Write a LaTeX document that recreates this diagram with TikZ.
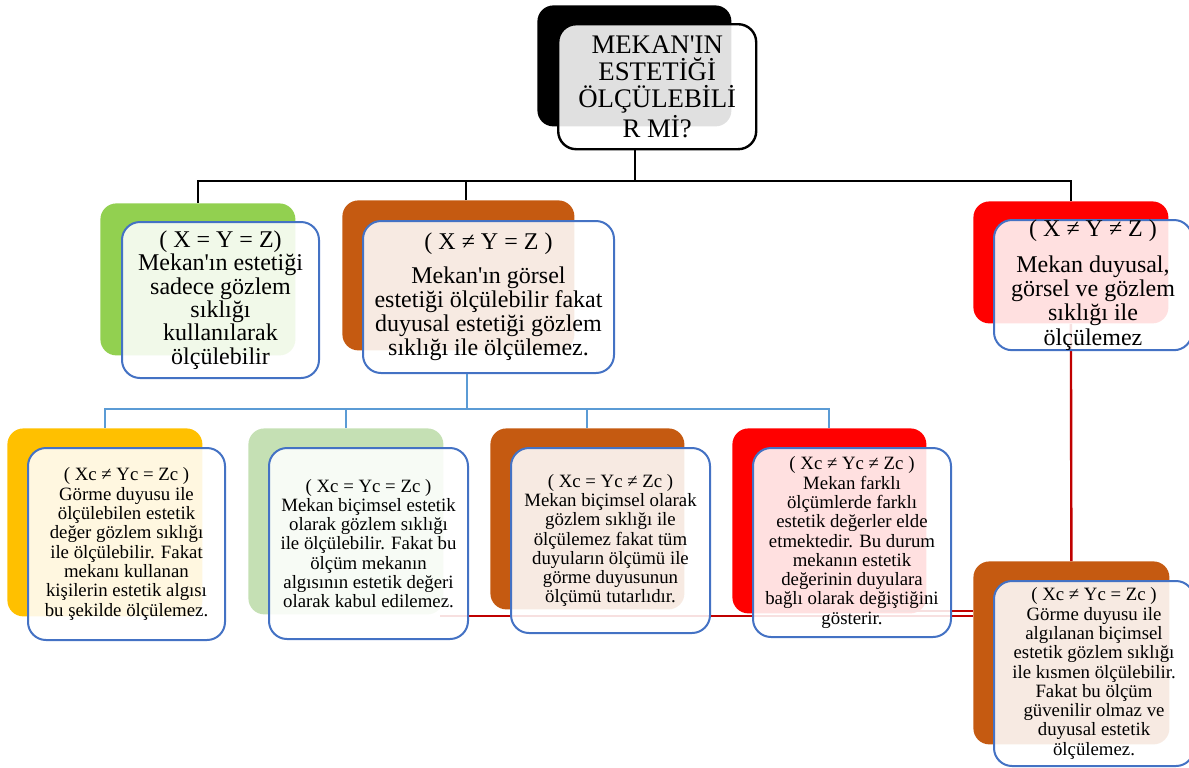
\documentclass[tikz,border=0pt]{standalone}
\usepackage{fontspec}
\setmainfont{Liberation Serif}[Ligatures=TeXOff]
\definecolor{kenar}{HTML}{4472C4}
\definecolor{dal}{HTML}{5B9BD5}
\definecolor{koyukirmizi}{HTML}{C00000}
\definecolor{yesil}{HTML}{92D050}
\definecolor{acikyesil}{HTML}{C5E0B4}
\definecolor{turuncu}{HTML}{C55A11}
\definecolor{sari}{HTML}{FFC000}
\definecolor{kirmizi}{HTML}{FF0000}

\begin{document}
\begin{tikzpicture}[
x=0.5pt,y=-0.5pt,
back/.style={
  rounded corners=8pt,
  anchor=north west,
  inner sep=0pt
},
front/.style={
  draw=kenar,
  line width=1pt,
  fill=white,
  fill opacity=0.88,
  text opacity=1,
  rounded corners=9pt,
  anchor=north west,
  align=center,
  inner sep=0pt
},
buyuk/.style={font=\fontsize{13.4}{13.5}\selectfont},
orta/.style={font=\fontsize{12}{12.1}\selectfont},
kucuk/.style={font=\fontsize{9.4}{9.65}\selectfont},
agac/.style={line width=1pt},
mavidal/.style={draw=dal,line width=1pt},
kirmizidal/.style={draw=koyukirmizi,line width=1.2pt}
]
\useasboundingbox (0,0) rectangle (1189,767);

% arka kutular
\node[back,fill=black,minimum width=97pt,minimum height=60.5pt] at (537,5) (qb) {};
\node[back,fill=yesil,minimum width=97.5pt,minimum height=76pt] at (100,203) (l1b) {};
\node[back,fill=turuncu,minimum width=116pt,minimum height=75pt] at (342,200) (l2b) {};
\node[back,fill=kirmizi,minimum width=97.5pt,minimum height=61pt] at (973,201) (l3b) {};
\node[back,fill=sari,minimum width=97.5pt,minimum height=94pt] at (7,428) (c1b) {};
\node[back,fill=acikyesil,minimum width=97.5pt,minimum height=93pt] at (248,428) (c2b) {};
\node[back,fill=turuncu,minimum width=97pt,minimum height=90.5pt] at (490,428) (c3b) {};
\node[back,fill=kirmizi,minimum width=97pt,minimum height=92.5pt] at (732,428) (c4b) {};
\node[back,fill=turuncu,minimum width=98pt,minimum height=91.5pt] at (973,561) (c5b) {};

% kirmizi baglar
\coordinate (r1) at (440,616);
\coordinate (r2) at (880,611);
\draw[kirmizidal] (l3b.south) -- (c5b.north);
\draw[kirmizidal] (r1) -- (r1 -| c5b.west);
\draw[kirmizidal] (r2) -- (r2 -| c5b.west);

% on kutular
\node[front,draw=black,line width=1.2pt,buyuk,minimum width=99pt,minimum height=62.5pt] at (557,23) (q)
  {MEKAN'IN\\ESTETİĞİ\\ÖLÇÜLEBİLİ\\R Mİ?};
\node[front,orta,font=\fontsize{12}{11.7}\selectfont,minimum width=98.5pt,minimum height=78pt] at (121,221) (l1)
  {( X = Y = Z)\\Mekan'ın estetiği\\sadece gözlem\\sıklığı\\kullanılarak\\ölçülebilir};
\node[front,orta,minimum width=125.5pt,minimum height=76pt] at (362,220) (l2)
  {( X ≠ Y = Z )\\[4.8pt]Mekan'ın görsel\\estetiği ölçülebilir fakat\\duyusal estetiği gözlem\\sıklığı ile ölçülemez.};
\node[front,orta,minimum width=99pt,minimum height=63.5pt] at (993,219) (l3)
  {( X ≠ Y ≠ Z )\\[5.8pt]Mekan duyusal,\\görsel ve gözlem\\sıklığı ile\\ölçülemez};
\node[front,kucuk,minimum width=98.5pt,minimum height=96pt] at (27,447) (c1)
  {( Xc ≠ Yc = Zc )\\Görme duyusu ile\\ölçülebilen estetik\\değer gözlem sıklığı\\ile ölçülebilir. Fakat\\mekanı kullanan\\kişilerin estetik algısı\\bu şekilde ölçülemez.};
\node[front,kucuk,minimum width=99.5pt,minimum height=95.5pt] at (268,447) (c2)
  {( Xc = Yc = Zc )\\Mekan biçimsel estetik\\olarak gözlem sıklığı\\ile ölçülebilir. Fakat bu\\ölçüm mekanın\\algısının estetik değeri\\olarak kabul edilemez.};
\node[front,kucuk,minimum width=99.5pt,minimum height=92.5pt] at (510,447) (c3)
  {( Xc = Yc ≠ Zc )\\Mekan biçimsel olarak\\gözlem sıklığı ile\\ölçülemez fakat tüm\\duyuların ölçümü ile\\görme duyusunun\\ölçümü tutarlıdır.};
\node[front,kucuk,minimum width=99pt,minimum height=94.5pt] at (752,447) (c4)
  {( Xc ≠ Yc ≠ Zc )\\Mekan farklı\\ölçümlerde farklı\\estetik değerler elde\\etmektedir. Bu durum\\mekanın estetik\\değerinin duyulara\\bağlı olarak değiştiğini\\gösterir.};
\node[front,kucuk,minimum width=100pt,minimum height=92.5pt] at (993,580) (c5)
  {( Xc ≠ Yc = Zc )\\Görme duyusu ile\\algılanan biçimsel\\estetik gözlem sıklığı\\ile kısmen ölçülebilir.\\Fakat bu ölçüm\\güvenilir olmaz ve\\duyusal estetik\\ölçülemez.};

% siyah agac
\coordinate (hub) at (635,181);
\coordinate (m2) at (466,200);
\draw[agac] (q.south -| hub) -- (hub);
\draw[agac] (l1b.north) -- (l1b.north |- hub) -- (l3b.north |- hub) -- (l3b.north);
\draw[agac] (m2) -- (m2 |- hub);

% mavi agac
\coordinate (m3) at (467,409);
\draw[mavidal] (l2.south -| m3) -- (m3);
\draw[mavidal] (c1b.north) -- (c1b.north |- m3) -- (c4b.north |- m3) -- (c4b.north);
\foreach \k in {c2b,c3b}
  \draw[mavidal] (\k.north) -- (\k.north |- m3);

\end{tikzpicture}
\end{document}
